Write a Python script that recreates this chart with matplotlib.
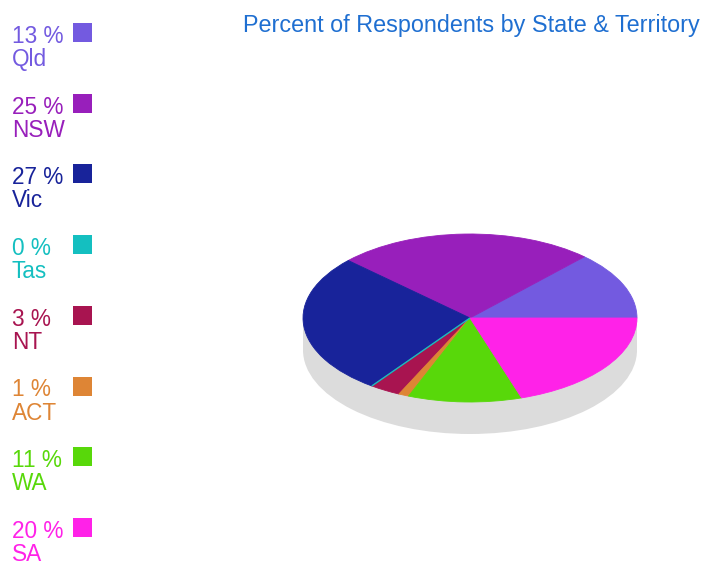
import matplotlib
matplotlib.use("Agg")
import matplotlib.pyplot as plt
from matplotlib.patches import Wedge, Ellipse, Rectangle
from matplotlib.transforms import Affine2D

# Survey shares by state / territory (percent)
states = ["Qld", "NSW", "Vic", "Tas", "NT", "ACT", "WA", "SA"]
percents = [13, 25, 27, 0, 3, 1, 11, 20]
colors = ["#735ae0", "#981fbb", "#18239a", "#14bfc0",
          "#a81450", "#de8535", "#58d80a", "#ff22e8"]

plt.rcParams["font.family"] = ["Liberation Sans", "DejaVu Sans"]

W, H = 703, 562
fig = plt.figure(figsize=(W / 100, H / 100), dpi=100)
ax = fig.add_axes([0, 0, 1, 1])
ax.set_xlim(0, W)
ax.set_ylim(H, 0)
ax.axis("off")

# pie geometry (pixels)
cx, cy, rx, ry, depth = 470, 318, 167, 84, 32

# gray extruded side
ax.add_patch(Ellipse((cx, cy + depth), 2 * rx, 2 * ry, facecolor="#dcdcdc",
                     edgecolor="none", zorder=1))
ax.add_patch(Rectangle((cx - rx, cy), 2 * rx, depth, facecolor="#dcdcdc",
                       edgecolor="none", zorder=1))

# top face: unit-circle wedges squashed into an ellipse
squash = Affine2D().scale(rx, -ry).translate(cx, cy) + ax.transData
total = sum(percents)
start = 0.0
for name, p, c in zip(states, percents, colors):
    sweep = 360.0 * p / total
    w = Wedge((0, 0), 1.0, start, start + sweep, facecolor=c,
              edgecolor=c, linewidth=0.6 if p > 0 else 1.0,
              transform=squash, zorder=2 if p > 0 else 3)
    ax.add_patch(w)
    start += sweep

# legend column
top, step = 43, 70.7
for i, (name, p, c) in enumerate(zip(states, percents, colors)):
    base = top + i * step
    ax.text(12, base, f"{p} %", color=c, fontsize=16.3, ha="left",
            va="baseline")
    ax.text(12, base + 23, name, color=c, fontsize=16.3, ha="left",
            va="baseline")
    ax.add_patch(Rectangle((73, base - 20), 19, 19, facecolor=c,
                           edgecolor="none"))

ax.text(700, 32, "Percent of Respondents by State & Territory",
        color="#1f6fd1", fontsize=16.8, ha="right", va="baseline")

fig.savefig("out.png", dpi=100)
